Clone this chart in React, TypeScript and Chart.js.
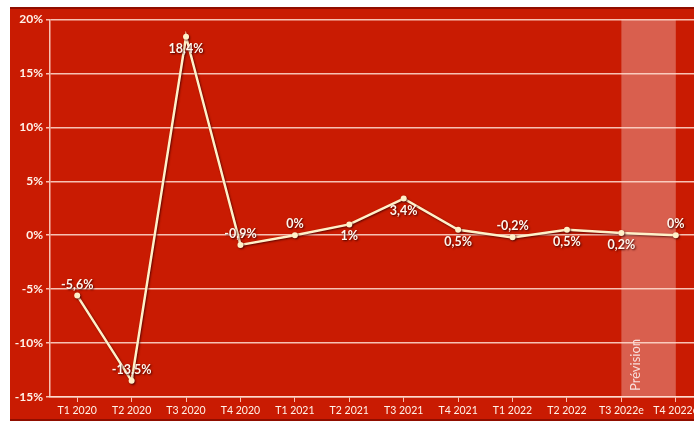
import React, { useEffect, useRef } from "react";
import { Chart, registerables } from "chart.js";

Chart.register(...registerables);

// Quarterly growth, in percent
const quarters = [
  "T1 2020", "T2 2020", "T3 2020", "T4 2020",
  "T1 2021", "T2 2021", "T3 2021", "T4 2021",
  "T1 2022", "T2 2022", "T3 2022e", "T4 2022e",
];
const growth = [-5.6, -13.5, 18.4, -0.9, 0, 1, 3.4, 0.5, -0.2, 0.5, 0.2, 0];
// Which side of the point each value label sits on
const labelSide = [
  "above", "above", "below", "above",
  "above", "below", "below", "below",
  "above", "below", "below", "above",
];
const yMin = -15;
const yMax = 20;
const yStep = 5;
// Forecast band runs between these two category indices
const forecastFrom = 10;
const forecastTo = 11;
const forecastText = "Prévision";

const BG = "#c91b02";
const CREAM = "#fff1c9";
const GRID = "rgba(255,222,210,0.85)";
const FONT = "Lato, 'Open Sans', sans-serif";

const fmt = (v: number) => String(v).replace(".", ",") + "%";

const backdrop = {
  id: "backdrop",
  beforeDraw(chart: any) {
    const { ctx, chartArea, scales } = chart;
    const x = scales.x;
    ctx.save();
    ctx.fillStyle = BG;
    ctx.fillRect(0, 0, chart.width, chart.height);
    const left = x.getPixelForValue(forecastFrom);
    const right = x.getPixelForValue(forecastTo);
    ctx.fillStyle = "rgba(255,255,255,0.3)";
    ctx.fillRect(left, chartArea.top, right - left, chartArea.bottom - chartArea.top);
    ctx.translate(left + 14, chartArea.bottom - 6);
    ctx.rotate(-Math.PI / 2);
    ctx.font = `13px ${FONT}`;
    ctx.fillStyle = "rgba(255,255,255,0.8)";
    ctx.textAlign = "left";
    ctx.textBaseline = "middle";
    ctx.fillText(forecastText, 0, 0);
    ctx.restore();
  },
  beforeDatasetDraw(chart: any) {
    const { ctx } = chart;
    ctx.save();
    ctx.shadowColor = "rgba(70,0,0,0.8)";
    ctx.shadowBlur = 2;
    ctx.shadowOffsetX = 1;
    ctx.shadowOffsetY = 1;
  },
  afterDatasetDraw(chart: any) {
    chart.ctx.restore();
  },
  afterDatasetsDraw(chart: any) {
    const { ctx } = chart;
    const meta = chart.getDatasetMeta(0);
    ctx.save();
    ctx.font = `bold 12.5px ${FONT}`;
    ctx.textAlign = "center";
    ctx.textBaseline = "middle";
    ctx.shadowColor = "rgba(60,0,0,0.95)";
    ctx.shadowBlur = 2;
    ctx.shadowOffsetX = 1;
    ctx.shadowOffsetY = 1;
    ctx.fillStyle = "#fff6ec";
    meta.data.forEach((pt: any, i: number) => {
      const dy = labelSide[i] === "above" ? -11 : 12;
      ctx.fillText(fmt(growth[i]), pt.x, pt.y + dy);
    });
    ctx.restore();
  },
  afterDraw(chart: any) {
    const { ctx } = chart;
    ctx.save();
    ctx.fillStyle = "rgba(120,8,0,0.7)";
    ctx.fillRect(0, 0, chart.width, 2);
    ctx.fillRect(0, chart.height - 2, chart.width, 2);
    ctx.restore();
  },
};

export default function App() {
  const ref = useRef<HTMLCanvasElement | null>(null);

  useEffect(() => {
    if (!ref.current) return;
    const chart = new Chart(ref.current, {
      type: "line",
      data: {
        labels: quarters,
        datasets: [
          {
            data: growth,
            borderColor: CREAM,
            backgroundColor: CREAM,
            borderWidth: 2.5,
            pointRadius: 3,
            pointBackgroundColor: CREAM,
            pointBorderWidth: 0,
            tension: 0,
          },
        ],
      },
      options: {
        animation: false,
        responsive: false,
        devicePixelRatio: 1,
        layout: { padding: { top: 12.5, right: 27, bottom: 0, left: 0 } },
        plugins: {
          legend: { display: false },
          tooltip: { enabled: false },
        },
        scales: {
          x: {
            offset: true,
            grid: {
              offset: false,
              drawOnChartArea: false,
              drawTicks: true,
              tickLength: 5,
              color: GRID,
              lineWidth: 1,
            },
            border: { color: GRID, width: 1.5 },
            ticks: {
              color: "#fff3ea",
              font: { family: FONT, size: 10.5 },
              padding: 2,
              maxRotation: 0,
              autoSkip: false,
            },
            afterFit(scale: any) {
              scale.height = 24;
            },
          },
          y: {
            min: yMin,
            max: yMax,
            grid: {
              color: GRID,
              lineWidth: 1.5,
              tickLength: 4,
            },
            border: { color: GRID, width: 1.5 },
            ticks: {
              stepSize: yStep,
              color: "#fff3ea",
              font: { family: FONT, size: 12, weight: "bold" },
              padding: 3,
              callback: (v: any) => `${v}%`,
            },
            afterFit(scale: any) {
              scale.width = 40;
            },
          },
        },
      },
      plugins: [backdrop],
    });
    return () => chart.destroy();
  }, []);

  return (
    <div
      style={{
        position: "fixed",
        left: 10,
        top: 7,
        width: 684,
        height: 414,
        overflow: "hidden",
      }}
    >
      <canvas ref={ref} width={720} height={414} style={{ display: "block" }} />
    </div>
  );
}
